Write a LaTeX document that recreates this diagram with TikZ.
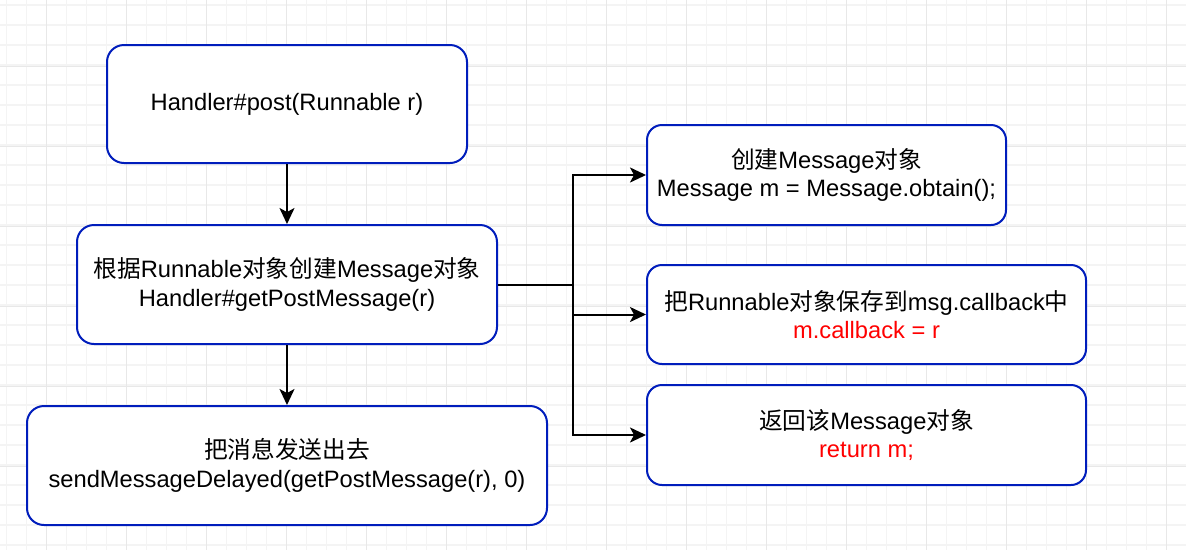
\documentclass[tikz,border=0pt]{standalone}
\usepackage{fontspec}
\setmainfont{Liberation Sans}
\newfontfamily\cjk{Noto Sans CJK SC}
\usetikzlibrary{arrows.meta}
\newcommand\zh[1]{{\cjk #1}}
\definecolor{dblue}{HTML}{001DBC}
\definecolor{mred}{HTML}{FF0000}
\definecolor{gridminor}{HTML}{F4F4F4}
\definecolor{gridmajor}{HTML}{E8E8E8}
\begin{document}
\begin{tikzpicture}[x=1pt,y=-1pt,
  box/.style={draw=dblue, line width=2pt, rounded corners=17pt, fill=white, align=center,
    inner sep=0pt, font=\fontsize{23.7}{28.5}\selectfont},
  arr/.style={draw=black, line width=2pt, -{Stealth[length=16pt,width=15pt,inset=4pt]}},
  conn/.style={draw=black, line width=2pt}]
\useasboundingbox (0,0) rectangle (1186,550);
\fill[white] (0,0) rectangle (1186,550);
% grid
\foreach \i in {0,...,59} \draw[gridminor,line width=1.3pt] (6.667+20*\i,0) -- (6.667+20*\i,550);
\foreach \i in {0,...,27} \draw[gridminor,line width=1.3pt] (0,5+20*\i) -- (1186,5+20*\i);
\foreach \i in {0,...,14} \draw[gridmajor,line width=1.3pt] (46.667+80*\i,0) -- (46.667+80*\i,550);
\foreach \i in {0,...,6} \draw[gridmajor,line width=1.3pt] (0,-13.333+80*\i) -- (1186,-13.333+80*\i);
% nodes
\node[box, minimum width=360pt, minimum height=118pt] (b1) at (287,104) {Handler\#post(Runnable r)};
\node[box, minimum width=420pt, minimum height=119pt] (b2) at (287,284.5)
  {\zh{根据}Runnable\zh{对象创建}Message\zh{对象}\\Handler\#getPostMessage(r)};
\node[box, minimum width=520pt, minimum height=119pt] (b3) at (287,465.5)
  {\zh{把消息发送出去}\\sendMessageDelayed(getPostMessage(r), 0)};
\node[box, minimum width=359pt, minimum height=100pt, rounded corners=15pt] (r1) at (826.5,175)
  {\zh{创建}Message\zh{对象}\\Message m = Message.obtain();};
\node[box, minimum width=439pt, minimum height=99pt, rounded corners=15pt] (r2) at (866.5,314.5)
  {\zh{把}Runnable\zh{对象保存到}msg.callback\zh{中}\\\textcolor{mred}{m.callback = r}};
\node[box, minimum width=439pt, minimum height=100pt, rounded corners=15pt] (r3) at (866.5,435)
  {\zh{返回该}Message\zh{对象}\\\textcolor{mred}{return m;}};
% connectors
\coordinate (j) at (573,285);
\draw[arr] (b1.south) -- (b2.north);
\draw[arr] (b2.south) -- (b3.north);
\draw[conn] (b2.east |- j) -- (j);
\draw[arr] (j) |- (r1.west);
\draw[arr] (j) |- (r2.west);
\draw[arr] (j) |- (r3.west);
\end{tikzpicture}
\end{document}
